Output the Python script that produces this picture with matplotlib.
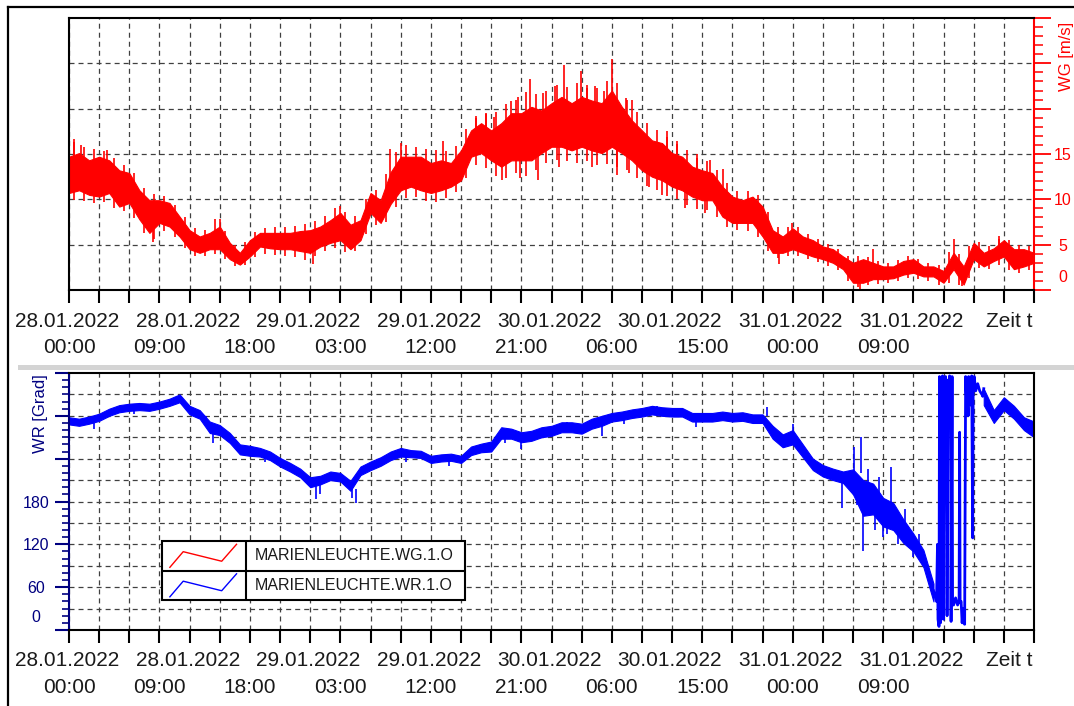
"""Wind speed (WG) and wind direction (WR) at Marienleuchte, 28.01.2022 - 01.02.2022.

Two stacked panels on a shared 4-day time axis, drawn in the style of the
station viewer: WG on a red right-hand axis, WR on a navy left-hand axis,
dashed grid, and a boxed legend inside the lower panel.
"""

import datetime as dt

import matplotlib

matplotlib.use("Agg")
import matplotlib.pyplot as plt
import numpy as np
from matplotlib.lines import Line2D
from matplotlib.patches import Rectangle
from matplotlib.ticker import FuncFormatter, MultipleLocator

plt.rcParams["font.family"] = ["Liberation Sans", "DejaVu Sans"]
plt.rcParams["lines.scale_dashes"] = False

START = dt.datetime(2022, 1, 28, 0, 0)
HOURS = np.arange(97)  # hourly samples, hours since START
HALF_HOURS = np.arange(96) + 0.5

# WG [m/s]: hourly band of the 10-min noise (upper / lower edge)
WG_HI = [
    14.7, 15.1, 14.3, 14.7, 14.3, 13.2, 12.9, 11.0, 9.9, 9.9, 9.6, 8.1,
    6.6, 5.9, 6.3, 7.0, 5.2, 4.1, 5.5, 6.3, 6.3, 6.3, 6.3, 6.5,
    6.6, 7.0, 7.7, 8.5, 7.2, 7.7, 10.7, 9.9, 13.0, 14.7, 14.7, 14.7,
    14.0, 14.3, 14.0, 15.4, 17.6, 18.4, 17.6, 18.4, 19.5, 19.5, 20.2, 19.8,
    20.6, 21.3, 20.6, 21.3, 20.9, 20.6, 22.0, 20.2, 18.7, 17.6, 16.5, 16.2,
    15.1, 14.7, 13.6, 13.2, 12.9, 11.4, 10.3, 9.9, 10.3, 9.2, 6.6, 5.9,
    6.8, 5.9, 5.5, 4.8, 4.5, 3.7, 3.0, 3.4, 3.0, 2.6, 2.6, 3.2,
    3.4, 2.6, 2.6, 2.1, 4.1, 2.6, 5.2, 4.1, 4.6, 5.5, 4.5, 4.5,
    4.1,
]
WG_LO = [
    10.7, 11.0, 10.5, 10.3, 10.7, 9.2, 9.6, 7.8, 6.3, 7.4, 7.0, 5.9,
    4.5, 4.1, 4.5, 4.5, 3.4, 2.8, 3.7, 4.8, 4.6, 4.5, 4.5, 4.3,
    4.1, 4.8, 5.2, 5.5, 4.5, 5.5, 8.5, 7.4, 9.5, 11.0, 11.4, 11.0,
    10.7, 11.0, 11.4, 12.1, 14.7, 15.1, 14.3, 13.6, 14.3, 14.3, 14.3, 15.1,
    15.8, 15.8, 15.4, 15.8, 15.4, 15.1, 15.8, 15.1, 14.3, 13.2, 12.5, 12.1,
    11.4, 11.0, 10.3, 9.9, 9.9, 8.1, 7.4, 7.4, 7.4, 5.9, 4.1, 4.1,
    4.5, 4.1, 3.7, 3.4, 3.0, 2.3, 0.8, 0.8, 1.2, 1.2, 1.3, 1.7,
    1.9, 1.5, 1.5, 0.8, 2.3, 0.6, 3.4, 2.6, 3.2, 3.7, 2.3, 2.6,
    3.0,
]
# WG extremes inside each hour (drawn at the half hour)
WG_MAX = [
    16.3, 15.8, 15.6, 15.3, 14.6, 13.8, 12.9, 11.3, 10.6, 10.4, 9.4, 8.0,
    6.8, 6.6, 7.8, 6.5, 5.0, 5.3, 6.4, 6.8, 7.0, 6.9, 7.1, 7.3,
    7.6, 8.2, 9.0, 8.6, 8.2, 10.0, 11.0, 12.8, 15.2, 16.0, 15.8, 15.6,
    15.4, 15.3, 15.9, 17.8, 19.2, 19.4, 19.6, 20.5, 21.0, 21.8, 21.6, 22.0,
    22.6, 22.4, 22.8, 22.6, 22.3, 23.0, 22.8, 21.0, 19.6, 18.4, 17.6, 16.9,
    16.1, 15.4, 14.6, 14.2, 13.2, 11.8, 10.9, 10.9, 10.5, 8.6, 6.9, 7.0,
    6.9, 6.2, 5.6, 5.1, 4.5, 3.8, 3.7, 3.6, 3.2, 3.0, 3.3, 3.7,
    3.4, 3.0, 2.8, 4.2, 4.0, 4.8, 5.3, 4.9, 5.6, 5.5, 5.0, 4.8,
]
WG_MIN = [
    9.9, 9.8, 9.6, 9.7, 9.0, 8.7, 7.9, 6.3, 5.6, 6.5, 5.8, 4.6,
    3.8, 3.8, 4.0, 3.4, 2.6, 2.8, 3.6, 4.0, 3.9, 3.8, 3.6, 3.3,
    3.7, 4.3, 4.6, 4.2, 4.3, 6.2, 7.2, 7.5, 9.2, 10.2, 10.3, 9.8,
    9.7, 10.2, 10.8, 12.4, 13.8, 13.5, 12.6, 12.4, 12.9, 12.6, 13.2, 14.0,
    14.3, 14.2, 14.0, 14.2, 13.8, 13.9, 13.6, 13.2, 12.3, 11.5, 11.0, 10.4,
    10.0, 9.4, 8.9, 8.8, 8.0, 6.9, 6.6, 6.5, 5.8, 4.3, 3.5, 3.7,
    3.7, 3.4, 3.1, 2.7, 2.2, 1.0, 0.3, 0.5, 0.7, 0.8, 1.0, 1.3,
    1.2, 1.0, 0.6, 0.8, 0.5, 1.3, 2.4, 2.3, 2.8, 2.2, 1.9, 2.2,
]
# WG gust spikes sticking out of the band: time [h], band edge, tip
WG_SPIKE_T = [0.5, 1.2, 3.8, 8.4, 15.0, 24.3, 27.0, 31.9, 33.0, 37.2,
              40.5, 41.5, 42.3, 43.1, 44.0, 44.7, 44.9, 45.9, 46.7, 47.2,
              48.3, 48.7, 49.2, 50.9, 51.5, 52.0, 52.3, 53.2, 54.0, 54.5,
              55.4, 55.7, 56.0, 57.7, 59.0, 59.5, 60.5, 61.3, 62.5, 63.3,
              63.8, 65.1, 70.6, 71.9, 78.7, 80.0, 88.0, 88.8, 92.5]
WG_SPIKE_BASE = [14.0, 14.0, 14.0, 7.0, 6.0, 4.5, 8.0, 12.0, 14.0, 13.5,
                 17.5, 18.0, 17.0, 14.0, 19.0, 19.0, 14.5, 19.5, 15.0, 19.5,
                 20.0, 16.0, 20.5, 20.5, 20.5, 15.5, 20.0, 20.0, 21.5, 16.0,
                 19.5, 15.0, 18.5, 13.5, 12.5, 15.5, 14.5, 11.0, 13.0, 10.0,
                 12.5, 10.5, 4.3, 6.0, 1.0, 2.8, 3.5, 1.0, 5.0]
WG_SPIKE_TIP = [16.6, 16.0, 15.4, 5.3, 7.8, 2.9, 9.3, 15.6, 16.2, 16.4,
                19.0, 19.5, 19.1, 12.1, 20.8, 21.3, 12.4, 23.3, 12.1, 21.7,
                22.5, 13.6, 24.8, 24.2, 22.3, 13.6, 22.5, 22.0, 25.5, 12.7,
                21.2, 12.9, 21.0, 11.4, 10.5, 17.5, 16.4, 9.0, 15.0, 8.5,
                14.3, 13.4, 2.9, 7.4, 0.1, 4.5, 5.6, 0.4, 6.0]

# WR [Grad]: hourly band up to 31.01. 14:00
WR_HI = [
    298, 296, 299, 303, 310, 315, 317, 318, 317, 320, 324, 330,
    314, 308, 292, 287, 276, 260, 258, 255, 250, 241, 234, 226,
    214, 216, 222, 220, 209, 229, 236, 242, 250, 255, 252, 251,
    244, 246, 247, 244, 257, 261, 264, 284, 282, 277, 279, 284,
    286, 291, 291, 289, 296, 300, 304, 306, 309, 311, 314, 312,
    311, 311, 304, 304, 304, 306, 304, 305, 302, 302, 286, 274,
    280, 260, 240, 231, 226, 222, 225, 210, 205, 185, 178, 155,
    135, 112, 65,
]
WR_LO = [
    288, 286, 289, 293, 300, 305, 307, 308, 307, 310, 314, 319,
    302, 296, 276, 273, 262, 246, 244, 243, 238, 229, 222, 214,
    200, 204, 210, 208, 195, 217, 224, 230, 238, 243, 242, 241,
    234, 236, 237, 234, 245, 249, 250, 268, 268, 263, 265, 270,
    272, 277, 277, 275, 282, 286, 292, 294, 297, 299, 302, 300,
    299, 299, 292, 292, 292, 294, 292, 293, 290, 290, 268, 256,
    260, 242, 224, 215, 210, 206, 190, 160, 162, 145, 140, 122,
    110, 88, 40,
]
# WR while the direction swings across north (31.01. 14:00 - 18:55)
WR_SWING_T = [86.0, 86.3, 86.4, 86.45, 86.55, 86.6, 86.7, 86.75, 86.85, 86.9,
              87.0, 87.1, 87.2, 87.3, 87.35, 87.45, 87.55, 87.6, 87.7, 87.75,
              87.85, 87.9, 88.0, 88.2, 88.4, 88.55, 88.6, 88.65, 88.75, 88.85,
              88.95, 89.1, 89.2, 89.3, 89.35, 89.45, 89.5, 89.6, 89.7, 89.75,
              89.8, 89.9, 89.95, 90.05, 90.2, 90.4, 90.6, 90.9]
WR_SWING_V = [55, 40, 120, 15, 5, 355, 10, 350, 20, 356,
              15, 350, 355, 340, 20, 350, 330, 356, 320, 12,
              355, 40, 35, 45, 35, 42, 277, 38, 40, 10,
              30, 8, 355, 320, 350, 300, 355, 340, 352, 315,
              356, 129, 345, 355, 335, 345, 335, 328]
# WR hourly band for the last hours
WR_TAIL_T = [91, 92, 93, 94, 95, 96]
WR_TAIL_HI = [338, 308, 326, 314, 298, 292]
WR_TAIL_LO = [315, 290, 308, 296, 280, 270]
# WR single outliers: time [h], band edge, tip
WR_SPIKE_T = [2.5, 6.5, 13.6, 14.3, 19.5, 24.6, 25.0, 28.2, 28.6, 33.5,
              37.8, 43.4, 45.0, 49.5, 53.0, 55.2, 58.5, 62.4, 69.4, 72.0,
              73.6, 76.9, 78.05, 78.4, 78.8, 79.0, 79.5, 80.2, 80.6, 81.0,
              81.4, 81.8, 82.5, 83.2, 84.0, 84.6]
WR_SPIKE_BASE = [290, 310, 300, 280, 245, 205, 206, 200, 198, 245,
                 240, 270, 265, 280, 288, 298, 305, 295, 300, 278,
                 245, 210, 220, 200, 220, 165, 200, 170, 190, 160,
                 150, 180, 145, 150, 120, 115]
WR_SPIKE_TIP = [282, 302, 286, 262, 236, 183, 190, 185, 178, 236,
                230, 262, 253, 292, 272, 288, 314, 284, 312, 288,
                232, 171, 256, 175, 270, 110, 225, 140, 215, 130,
                135, 228, 120, 170, 102, 135]

DATE_LABELS = ["28.01.2022", "28.01.2022", "29.01.2022", "29.01.2022",
               "30.01.2022", "30.01.2022", "31.01.2022", "31.01.2022"]
LEGEND_NAMES = ["MARIENLEUCHTE.WG.1.O", "MARIENLEUCHTE.WR.1.O"]

RED = "#ff0000"
BLUE = "#0000ff"
NAVY = "#000080"
GRID = "#404040"
TEXT = "#1a1a1a"

W, H = 1074, 706
PT = 0.72  # points per pixel at dpi=100


def box(x0, y0, x1, y1):
    """Pixel box (top-left origin) -> figure fraction rect."""
    return [x0 / W, 1 - y1 / H, (x1 - x0) / W, (y1 - y0) / H]


def time_label(h, pos):
    h = int(round(h))
    if h % 9 or h > 81:
        return ""
    return (START + dt.timedelta(hours=h)).strftime("%H:%M")


def style_time_axis(ax, date_row_y):
    ax.set_xlim(0, 96)
    ax.xaxis.set_major_locator(MultipleLocator(3))
    ax.xaxis.set_major_formatter(FuncFormatter(time_label))
    ax.tick_params(axis="x", which="major", direction="out", length=13 * PT,
                   width=1.5, color="black", labelsize=15, labelcolor=TEXT,
                   pad=35 * PT)
    ax.grid(axis="x", which="major", color=GRID, lw=0.9,
            linestyle=(0, (3.6, 2.9)), zorder=1)
    for side in ("left", "right", "top", "bottom"):
        ax.spines[side].set_linewidth(1.5)
        ax.spines[side].set_color("black")
        ax.spines[side].set_zorder(5)
    # date row above the clock times, then the axis caption at the far right
    for k, label in enumerate(DATE_LABELS):
        fig.text((67.5 + 120.5 * k) / W, 1 - date_row_y / H, label,
                 ha="center", va="center", fontsize=15, color=TEXT)
    fig.text(1033 / W, 1 - date_row_y / H, "Zeit t", ha="right", va="center",
             fontsize=15, color=TEXT)


def hgrid(ax, values):
    for v in values:
        ax.axhline(v, color=GRID, lw=0.9, linestyle=(0, (3.6, 2.9)), zorder=1)


fig = plt.figure(figsize=(W / 100, H / 100), dpi=100)

# ---- upper panel: wind speed -------------------------------------------
ax_wg = fig.add_axes(box(69, 18, 1034, 290))
style_time_axis(ax_wg, 322)
ax_wg.set_ylim(0, 30)
hgrid(ax_wg, [5, 10, 15, 20, 25])
ax_wg.fill_between(HOURS, WG_LO, WG_HI, color=RED, lw=0.8, zorder=3)
ax_wg.vlines(HALF_HOURS, WG_MIN, WG_MAX, color=RED, lw=1.2, zorder=3)
ax_wg.vlines(WG_SPIKE_T, WG_SPIKE_BASE, WG_SPIKE_TIP, color=RED, lw=1.2, zorder=3)

ax_wg.yaxis.tick_right()
ax_wg.yaxis.set_major_locator(MultipleLocator(5))
ax_wg.yaxis.set_minor_locator(MultipleLocator(1))
ax_wg.yaxis.set_major_formatter(
    FuncFormatter(lambda v, p: f"{v:.0f}" if 0 < v <= 15 else ""))
ax_wg.spines["right"].set_color(RED)
ax_wg.tick_params(axis="y", which="major", direction="out", length=17 * PT,
                  width=1.3, color=RED, labelcolor=RED, labelsize=11.5, pad=12 * PT)
ax_wg.tick_params(axis="y", which="minor", direction="out", length=9 * PT,
                  width=1.1, color=RED)
plt.setp(ax_wg.get_yticklabels(), ha="center")
ax_wg.annotate("0", xy=(1, 0), xycoords=("axes fraction", "data"),
               xytext=(29 * PT, 12 * PT), textcoords="offset points",
               ha="center", va="center", color=RED, fontsize=11.5)
fig.text(1066 / W, 1 - 56 / H, "WG [m/s]", rotation=90, color=RED,
         fontsize=12, ha="center", va="center")

# ---- lower panel: wind direction ---------------------------------------
ax_wr = fig.add_axes(box(69, 373, 1034, 630))
style_time_axis(ax_wr, 661)
ax_wr.set_ylim(0, 360)
hgrid(ax_wr, range(30, 360, 30))
ax_wr.fill_between(HOURS[:len(WR_HI)], WR_LO, WR_HI, color=BLUE, lw=0.8, zorder=3)
ax_wr.plot(WR_SWING_T, WR_SWING_V, color=BLUE, lw=2.0, zorder=3)
ax_wr.fill_between(WR_TAIL_T, WR_TAIL_LO, WR_TAIL_HI, color=BLUE, lw=0.8, zorder=3)
ax_wr.plot([WR_SWING_T[-1], WR_TAIL_T[0]],
           [WR_SWING_V[-1], WR_TAIL_HI[0]], color=BLUE, lw=2.0, zorder=3)
ax_wr.vlines(WR_SPIKE_T, WR_SPIKE_BASE, WR_SPIKE_TIP, color=BLUE, lw=1.2, zorder=3)

ax_wr.yaxis.set_major_locator(MultipleLocator(60))
ax_wr.yaxis.set_minor_locator(MultipleLocator(10))
ax_wr.yaxis.set_major_formatter(
    FuncFormatter(lambda v, p: f"{v:.0f}" if 0 < v <= 180 else ""))
ax_wr.spines["left"].set_color(NAVY)
ax_wr.tick_params(axis="y", which="major", direction="out", length=14 * PT,
                  width=1.5, color=NAVY, labelcolor=NAVY, labelsize=11.5, pad=19 * PT)
ax_wr.tick_params(axis="y", which="minor", direction="out", length=7 * PT,
                  width=1.2, color=NAVY)
plt.setp(ax_wr.get_yticklabels(), ha="center")
ax_wr.annotate("0", xy=(0, 0), xycoords=("axes fraction", "data"),
               xytext=(-33 * PT, 12 * PT), textcoords="offset points",
               ha="center", va="center", color=NAVY, fontsize=11.5)
fig.text(41 / W, 1 - 414 / H, "WR [Grad]", rotation=90, color=NAVY,
         fontsize=12, ha="center", va="center")

# ---- boxed legend --------------------------------------------------------
ax_leg = fig.add_axes(box(162, 541, 465, 600))
ax_leg.set_xlim(0, 1)
ax_leg.set_ylim(0, 1)
ax_leg.axis("off")
ax_leg.add_patch(Rectangle((0, 0), 1, 1, facecolor="white", edgecolor="black",
                           lw=1.5, transform=ax_leg.transAxes, clip_on=False))
ax_leg.plot([0, 1], [0.5, 0.5], color="black", lw=1.5)
ax_leg.plot([0.277, 0.277], [0, 1], color="black", lw=1.5)
icon_x = [0.026, 0.070, 0.197, 0.246]
icon_y = [0.054, 0.319, 0.157, 0.444]
for row, (name, color) in enumerate(zip(LEGEND_NAMES, [RED, BLUE])):
    y0 = 0.5 if row == 0 else 0.0
    ax_leg.plot(icon_x, [y0 + y for y in icon_y], color=color, lw=1.0)
    ax_leg.text(0.307, y0 + 0.25, name, ha="left", va="center",
                fontsize=11.5, color=TEXT)

# ---- window frame and splitter bar --------------------------------------
fig.add_artist(Line2D([8 / W, 1], [1 - 7 / H, 1 - 7 / H], color="black",
                      lw=1.6, transform=fig.transFigure))
fig.add_artist(Line2D([8 / W, 8 / W], [0, 1 - 7 / H], color="black",
                      lw=1.6, transform=fig.transFigure))
fig.add_artist(Rectangle((18 / W, 1 - 370 / H), 1 - 18 / W, 5 / H,
                         facecolor="#d4d4d4", edgecolor="none",
                         transform=fig.transFigure))

fig.savefig("out.png", dpi=100)
